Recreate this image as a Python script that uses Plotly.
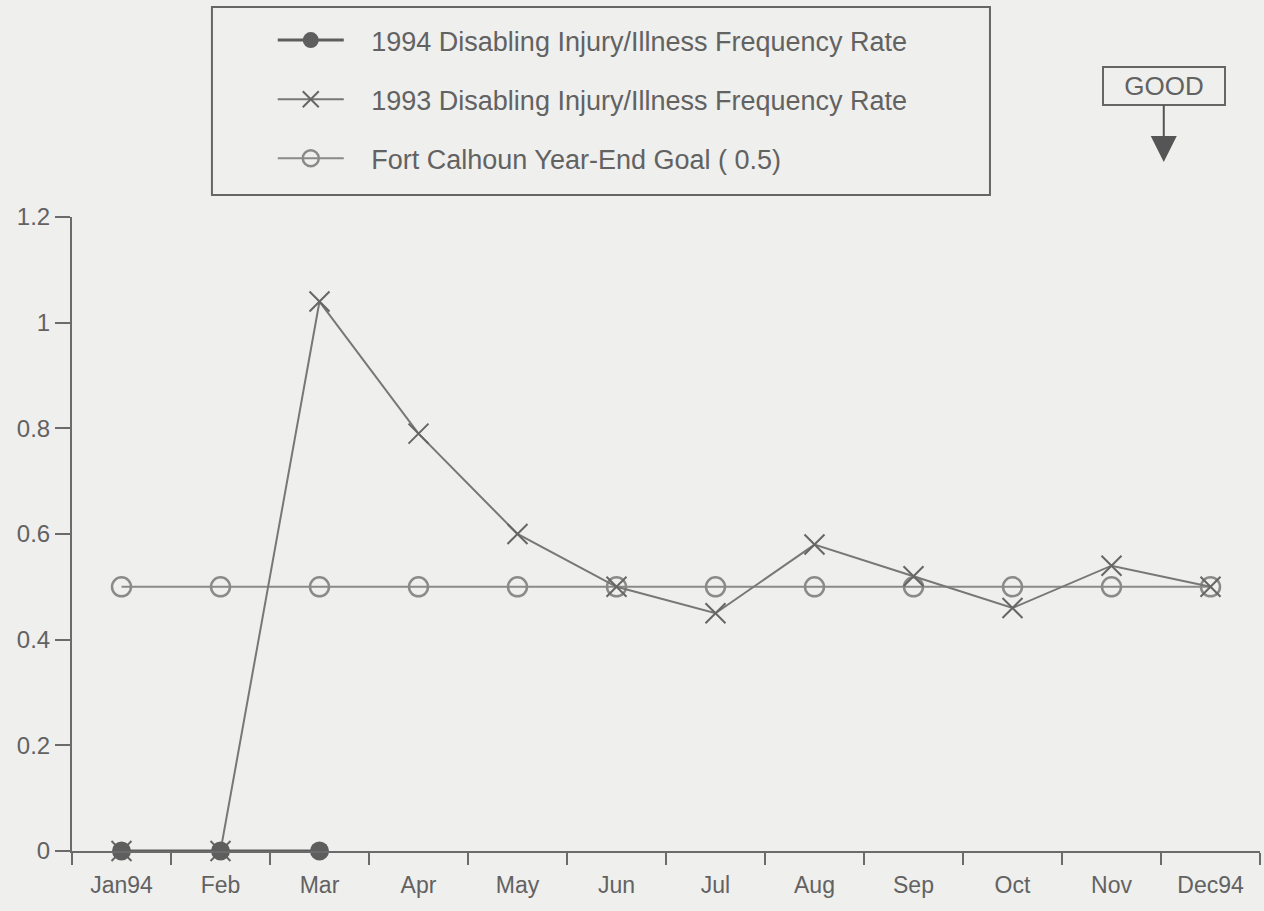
import plotly.graph_objects as go

months = ["Jan94", "Feb", "Mar", "Apr", "May", "Jun", "Jul", "Aug", "Sep", "Oct", "Nov", "Dec94"]
rate_1994 = [0, 0, 0]
rate_1993 = [0, 0, 1.04, 0.79, 0.60, 0.50, 0.45, 0.58, 0.52, 0.46, 0.54, 0.50]
goal = [0.5] * 12
y_ticks = [0, 0.2, 0.4, 0.6, 0.8, 1, 1.2]
y_labels = ["0", "0.2", "0.4", "0.6", "0.8", "1", "1.2"]

ink = "#6b6b6b"
txt = "#626262"
bg = "#efefed"
font = "Liberation Sans, Arial, sans-serif"
pad = "\u00a0\u00a0\u00a0"  # gap between legend symbol and label

fig = go.Figure()

fig.add_trace(go.Scatter(
    x=months, y=goal, mode="lines+markers",
    name=pad + "Fort Calhoun Year-End Goal ( 0.5)", legendgroup="c", legendrank=3,
    line=dict(color="#8a8a8a", width=2),
    marker=dict(symbol="circle-open", size=19, line=dict(color="#777777", width=2.5)),
    cliponaxis=False,
))
fig.add_trace(go.Scatter(
    x=months, y=rate_1993, mode="lines+markers",
    name=pad + "1993 Disabling Injury/Illness Frequency Rate", legendgroup="b", legendrank=2,
    line=dict(color="#777777", width=2),
    marker=dict(symbol="x-thin", size=20, line=dict(color="#666666", width=2)),
    cliponaxis=False,
))
fig.add_trace(go.Scatter(
    x=months[:len(rate_1994)], y=rate_1994, mode="lines+markers",
    name=pad + "1994 Disabling Injury/Illness Frequency Rate", legendgroup="a", legendrank=1,
    line=dict(color="#5e5e5e", width=3),
    marker=dict(symbol="circle", size=19, color="#5e5e5e"),
    cliponaxis=False,
))

# legend frame
fig.add_shape(type="rect", xref="paper", yref="paper",
              x0=0.1178, x1=0.7727, y0=1.0347, y1=1.3312,
              line=dict(color="#666666", width=2), layer="below")

fig.add_annotation(
    xref="paper", yref="paper", x=0.919, y=1.0868,
    ax=0, ay=-76, text="GOOD", showarrow=True, standoff=0,
    arrowhead=2, arrowsize=2.6, arrowwidth=2, arrowcolor="#555555",
    width=112, height=28,
    bordercolor="#666666", borderwidth=2, borderpad=4, bgcolor=bg,
    font=dict(family=font, size=26, color=txt),
)

fig.update_layout(
    width=1264, height=911,
    margin=dict(l=72, r=4, t=217, b=60),
    paper_bgcolor=bg, plot_bgcolor=bg,
    font=dict(family=font, size=24, color=txt),
    showlegend=True,
    legend=dict(
        x=0.169, y=1.317, xanchor="left", yanchor="top",
        borderwidth=0, bgcolor="rgba(0,0,0,0)",
        font=dict(family=font, size=27, color=txt),
        itemwidth=66, tracegroupgap=21,
    ),
    xaxis=dict(
        type="category", categoryorder="array", categoryarray=months,
        range=[-0.5, 11.5], showgrid=False, zeroline=False,
        showline=True, linecolor=ink, linewidth=2,
        ticks="outside", tickson="boundaries", ticklen=12, tickcolor=ink, tickwidth=2,
        ticklabelstandoff=12,
        tickfont=dict(family=font, size=23, color=txt),
    ),
    yaxis=dict(
        range=[0, 1.2], tickvals=y_ticks, ticktext=y_labels,
        showgrid=False, zeroline=False,
        showline=True, linecolor=ink, linewidth=2,
        ticks="outside", ticklen=15, tickcolor=ink, tickwidth=2,
        tickfont=dict(family=font, size=24, color=txt),
    ),
)

fig.write_html("out.html", config={"displayModeBar": False},
               post_script="document.body.style.margin='0';")
